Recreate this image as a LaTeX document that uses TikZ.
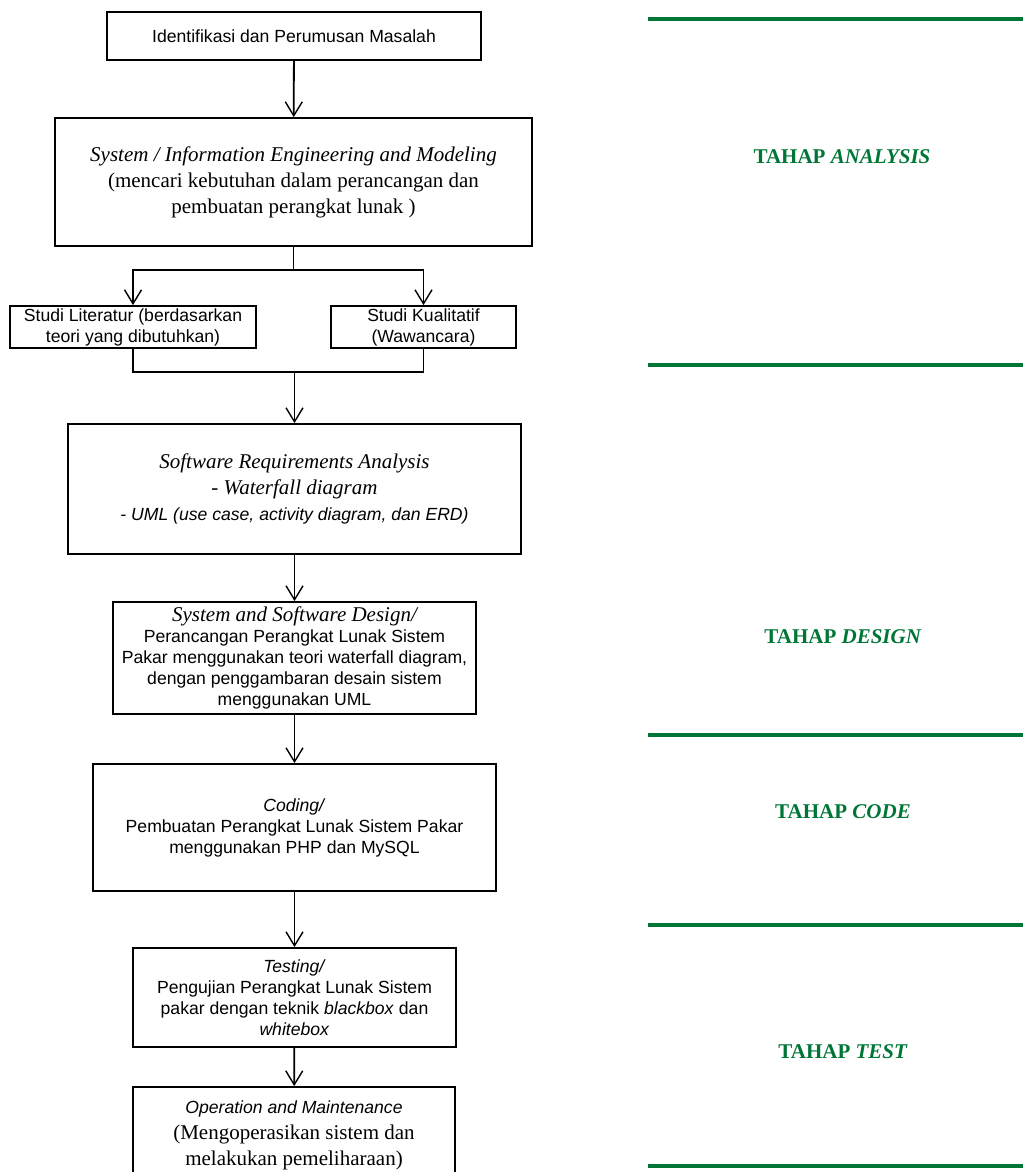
\documentclass[tikz,border=0pt]{standalone}
\usepackage{fontspec}
\setmainfont{Liberation Serif}
\setsansfont{Liberation Sans}
\usetikzlibrary{arrows.meta}
\definecolor{hijau}{RGB}{0,118,54}
\newcommand{\kecil}{\sffamily\fontsize{8.8}{10.5}\selectfont}
\newcommand{\besar}{\rmfamily\fontsize{10.5}{13}\selectfont}

\begin{document}
\begin{tikzpicture}[x=1pt,y=1pt,
   kotak/.style={draw,line width=0.9pt,align=center,inner sep=0pt,font=\kecil},
   panah/.style={line width=0.9pt,-{Straight Barb[length=7pt,width=8.5pt,line width=0.7pt]}},
   garis/.style={line width=0.9pt},
   tahap/.style={text=hijau,font=\rmfamily\bfseries\fontsize{10.5}{12}\selectfont},
   hijaugaris/.style={hijau,line width=2pt}]
   \clip (0,0) rectangle (511.5,-586);
   \node[kotak,minimum width=187pt,minimum height=24pt] (ident) at (147,-18) {Identifikasi dan Perumusan Masalah};
   \node[kotak,minimum width=238.5pt,minimum height=64pt,font=\besar] (sysinfo) at (146.75,-91)
      {\textit{System / Information Engineering and Modeling}\\(mencari kebutuhan dalam perancangan dan\\pembuatan perangkat lunak )};
   \node[kotak,minimum width=123pt,minimum height=21pt] (litstudy) at (66.5,-163.5) {Studi Literatur (berdasarkan\\teori yang dibutuhkan)};
   \node[kotak,minimum width=92.5pt,minimum height=21pt] (kualstudy) at (211.75,-163.5) {Studi Kualitatif\\(Wawancara)};
   \node[kotak,minimum width=226.5pt,minimum height=65pt,font=\besar] (reqs) at (147.25,-244.5)
      {\textit{Software Requirements Analysis}\\\textit{- Waterfall diagram}\\{\kecil\itshape - UML (use case, activity diagram, dan ERD)}};
   \node[kotak,minimum width=181.5pt,minimum height=56pt] (design) at (147.25,-329)
      {{\besar\itshape System and Software Design/}\\Perancangan Perangkat Lunak Sistem\\Pakar menggunakan teori waterfall diagram,\\dengan penggambaran desain sistem\\menggunakan UML};
   \node[kotak,minimum width=201.5pt,minimum height=63.5pt] (coding) at (147.25,-413.75)
      {\textit{Coding/}\\Pembuatan Perangkat Lunak Sistem Pakar\\menggunakan PHP dan MySQL};
   \node[kotak,minimum width=161.5pt,minimum height=49.5pt] (testing) at (147.25,-498.75)
      {\textit{Testing/}\\Pengujian Perangkat Lunak Sistem\\pakar dengan teknik \textit{blackbox} dan\\\textit{whitebox}};
   \node[kotak,minimum width=161pt,minimum height=48pt,font=\besar] (operation) at (147,-567.5)
      {{\kecil\itshape Operation and Maintenance}\\(Mengoperasikan sistem dan\\melakukan pemeliharaan)};
   \coordinate (cabang) at (146.75,-135);
   \coordinate (gabung) at (147.25,-186);
   \draw[panah] (ident) -- (sysinfo);
   \draw[garis] (sysinfo.south) -- (cabang);
   \draw[panah] (cabang) -| (litstudy.north);
   \draw[panah] (cabang) -| (kualstudy.north);
   \draw[garis] (litstudy.south) |- (gabung) -| (kualstudy.south);
   \draw[panah] (gabung) -- (reqs.north);
   \draw[panah] (reqs) -- (design);
   \draw[panah] (design) -- (coding);
   \draw[panah] (coding) -- (testing);
   \draw[panah] (testing) -- (operation);
   \foreach \y in {9.5,182.5,367.5,462.5,583}
      \draw[hijaugaris] (324,-\y) -- (511.5,-\y);
   \node[tahap] (analysis) at (421,-78.5) {TAHAP \textit{ANALYSIS}};
   \node[tahap] (designlabel) at (421.5,-318.5) {TAHAP \textit{DESIGN}};
   \node[tahap] (codelabel) at (421.5,-406) {TAHAP \textit{CODE}};
   \node[tahap] (testlabel) at (421.5,-526) {TAHAP \textit{TEST}};
\end{tikzpicture}
\end{document}
